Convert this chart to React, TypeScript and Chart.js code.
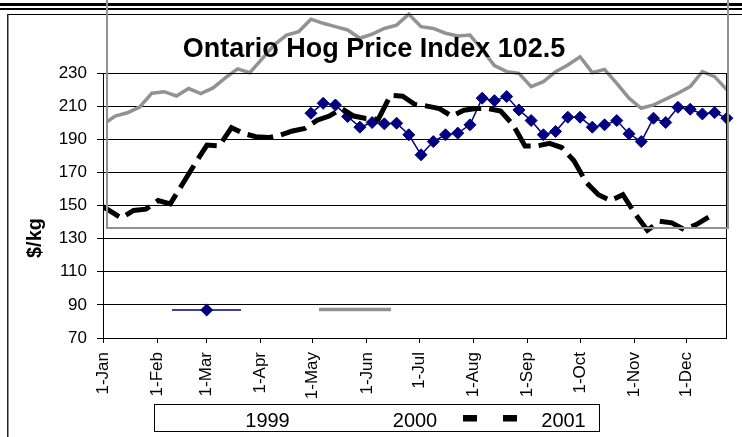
import React, { useEffect, useRef } from "react";
import { Chart, registerables } from "chart.js";

Chart.register(...registerables);

// ---- data ----
const monthLabels = ["1-Jan", "1-Feb", "1-Mar", "1-Apr", "1-May", "1-Jun", "1-Jul", "1-Aug", "1-Sep", "1-Oct", "1-Nov", "1-Dec"];
const monthStartDays = [0, 31, 59, 90, 120, 151, 181, 212, 243, 273, 304, 334];
const seriesNames = ["1999", "2000", "2001"];

// weekly prices, first week's day-of-year, 7 days apart
const firstDay1999 = 119;
const values1999 = [205.7, 211.7, 210.7, 203.7, 197.3, 200.1, 199.3, 199.7, 192.7, 180.6, 188.6, 192.7, 193.7, 198.7, 214.8, 213.3, 215.8, 207.7, 201.3, 192.7, 194.7, 203.3, 203.3, 197.3, 198.7, 201.3, 193.3, 188.6, 202.7, 200.1, 209.3, 208.1, 205.3, 206.1, 202.7];

const firstDay2000 = 0;
const values2000 = [199, 204, 206, 209.5, 217.8, 218.7, 216.1, 220.6, 217.6, 221, 227, 232.5, 230.2, 238.5, 247, 252.9, 255, 262.5, 260, 258, 256, 251, 253.5, 256.9, 258.9, 265.5, 258, 256.9, 254, 252.3, 252.9, 243.9, 234.5, 230.8, 229.8, 221.8, 224.8, 230.8, 234.8, 239.8, 230.2, 232.2, 223.8, 214.8, 208.7, 210.7, 214.2, 217.8, 221.8, 230.8, 227.8, 219.8];

const firstDay2001 = -3.5;
const values2001 = [151.5, 147, 142.5, 147, 147.8, 153, 151, 163, 175, 186.5, 186, 197, 193.5, 191.5, 191, 192.5, 195, 196.5, 201.5, 204, 208.5, 204, 202.5, 202, 216.5, 216, 211, 210, 208.5, 204, 207.5, 208.5, 208.5, 207, 199, 186, 186, 187.5, 185, 177, 164, 156.5, 153, 156.5, 145, 135, 140.5, 139.5, 135.5, 138.5, 143];

const yMin = 70;
const yMax = 230;
const yStep = 20;
const xMaxDay = 356.5;

const chartTitle = "Ontario Hog Price Index 102.5";
const yAxisTitle = "$/kg";

const NAVY = "#000080";
const GRAY = "#929292";
const FONT = "'Liberation Sans', Arial, sans-serif";

const toPoints = (first: number, vals: number[]) => vals.map((v, i) => ({ x: first + 7 * i, y: v }));

const decorPlugin = {
  id: "decor",
  afterDraw(chart: any) {
    const ctx = chart.ctx as CanvasRenderingContext2D;
    const a = chart.chartArea;
    ctx.save();
    // plot area frame
    ctx.strokeStyle = "#000";
    ctx.lineWidth = 1;
    ctx.strokeRect(Math.round(a.left) + 0.5, Math.round(a.top) + 0.5, Math.round(a.right - a.left), Math.round(a.bottom - a.top));

    // top rules and outer frame
    ctx.fillStyle = "#000";
    ctx.fillRect(0, 3, 742, 3);
    ctx.fillRect(0, 8, 742, 2);
    ctx.fillRect(8, 14, 734, 1);
    ctx.fillStyle = "#222";
    ctx.fillRect(7, 14, 1.5, 437 - 14);

    // gray overlay frame
    ctx.strokeStyle = GRAY;
    ctx.lineWidth = 2;
    ctx.beginPath();
    ctx.moveTo(107, 0);
    ctx.lineTo(107, 228);
    ctx.lineTo(728, 228);
    ctx.lineTo(728, 0);
    ctx.stroke();

    // title
    ctx.fillStyle = "#000";
    ctx.font = `bold 27px ${FONT}`;
    ctx.textAlign = "center";
    ctx.textBaseline = "alphabetic";
    ctx.fillText(chartTitle, 374, 57);

    // y-axis title
    ctx.save();
    ctx.translate(35, 238);
    ctx.rotate(-Math.PI / 2);
    ctx.font = `bold 20px ${FONT}`;
    ctx.textAlign = "center";
    ctx.textBaseline = "middle";
    ctx.fillText(yAxisTitle, 0, 0);
    ctx.restore();

    // legend box
    ctx.strokeStyle = "#000";
    ctx.lineWidth = 1;
    ctx.strokeRect(154.5, 404.5, 445, 27);
    ctx.font = `20px ${FONT}`;
    ctx.textAlign = "center";
    ctx.textBaseline = "alphabetic";
    ctx.fillStyle = "#000";
    ctx.fillText(seriesNames[0], 267.5, 427);
    ctx.fillText(seriesNames[1], 415, 427);
    ctx.fillText(seriesNames[2], 563.5, 427);
    // 2001 symbol
    ctx.fillRect(463, 415, 14, 6.5);
    ctx.fillRect(503, 415, 14, 6.5);
    // displaced 1999 symbol
    ctx.strokeStyle = NAVY;
    ctx.lineWidth = 1.5;
    ctx.beginPath();
    ctx.moveTo(172, 310);
    ctx.lineTo(241, 310);
    ctx.stroke();
    ctx.fillStyle = NAVY;
    ctx.beginPath();
    ctx.moveTo(206.7 - 6.5, 310);
    ctx.lineTo(206.7, 303.5);
    ctx.lineTo(206.7 + 6.5, 310);
    ctx.lineTo(206.7, 316.5);
    ctx.closePath();
    ctx.fill();
    // displaced 2000 symbol
    ctx.strokeStyle = GRAY;
    ctx.lineWidth = 3.5;
    ctx.beginPath();
    ctx.moveTo(319, 309.5);
    ctx.lineTo(391, 309.5);
    ctx.stroke();
    ctx.restore();
  },
};

export default function App() {
  const ref = useRef<HTMLCanvasElement | null>(null);
  useEffect(() => {
    if (!ref.current) return;
    const chart = new Chart(ref.current, {
      type: "line",
      data: {
        datasets: [
          {
            label: seriesNames[2],
            data: toPoints(firstDay2001, values2001),
            borderColor: "#000",
            borderWidth: 5,
            borderDash: [26, 8],
            borderCapStyle: "butt",
            pointRadius: 0,
            tension: 0,
            order: 0,
            clip: { left: 0, top: false, right: false, bottom: false } as any,
          },
          {
            label: seriesNames[0],
            data: toPoints(firstDay1999, values1999),
            borderColor: NAVY,
            backgroundColor: NAVY,
            borderWidth: 1.5,
            pointStyle: "rectRot",
            pointRadius: 6,
            pointBorderWidth: 1,
            pointBackgroundColor: NAVY,
            pointBorderColor: NAVY,
            tension: 0,
            order: 1,
            clip: false as any,
          },
          {
            label: seriesNames[1],
            data: toPoints(firstDay2000, values2000),
            borderColor: GRAY,
            borderWidth: 3.5,
            pointRadius: 0,
            tension: 0,
            order: 2,
            clip: { left: -4, top: false, right: false, bottom: false } as any,
          },
        ],
      },
      options: {
        animation: false,
        responsive: false,
        devicePixelRatio: 1,
        layout: { padding: { top: 73, right: 16, left: 0, bottom: 0 } },
        plugins: {
          legend: { display: false },
          title: { display: false },
          tooltip: { enabled: false },
        },
        scales: {
          x: {
            type: "linear",
            min: 0,
            max: xMaxDay,
            afterFit: (s: any) => {
              s.height = 99;
            },
            afterBuildTicks: (s: any) => {
              s.ticks = monthStartDays.map((v) => ({ value: v }));
            },
            ticks: {
              autoSkip: false,
              minRotation: 90,
              maxRotation: 90,
              padding: 9,
              color: "#000",
              font: { family: FONT, size: 17 },
              callback: (_v: any, i: number) => monthLabels[i],
            },
            grid: { drawOnChartArea: false, drawTicks: true, tickLength: 5, color: "#000", tickColor: "#000" },
            border: { color: "#000", width: 1 },
          },
          y: {
            min: yMin,
            max: yMax,
            afterFit: (s: any) => {
              s.width = 103;
            },
            ticks: {
              stepSize: yStep,
              padding: 10,
              color: "#000",
              font: { family: FONT, size: 17 },
            },
            grid: { color: "#000", tickColor: "#000", tickLength: 6, lineWidth: 1 },
            border: { color: "#000", width: 1 },
          },
        },
      },
      plugins: [decorPlugin],
    });
    return () => chart.destroy();
  }, []);
  return (
    <div style={{ position: "fixed", left: 0, top: 0, width: 742, height: 437, background: "#fff" }}>
      <canvas ref={ref} width={742} height={437} style={{ display: "block" }} />
    </div>
  );
}
